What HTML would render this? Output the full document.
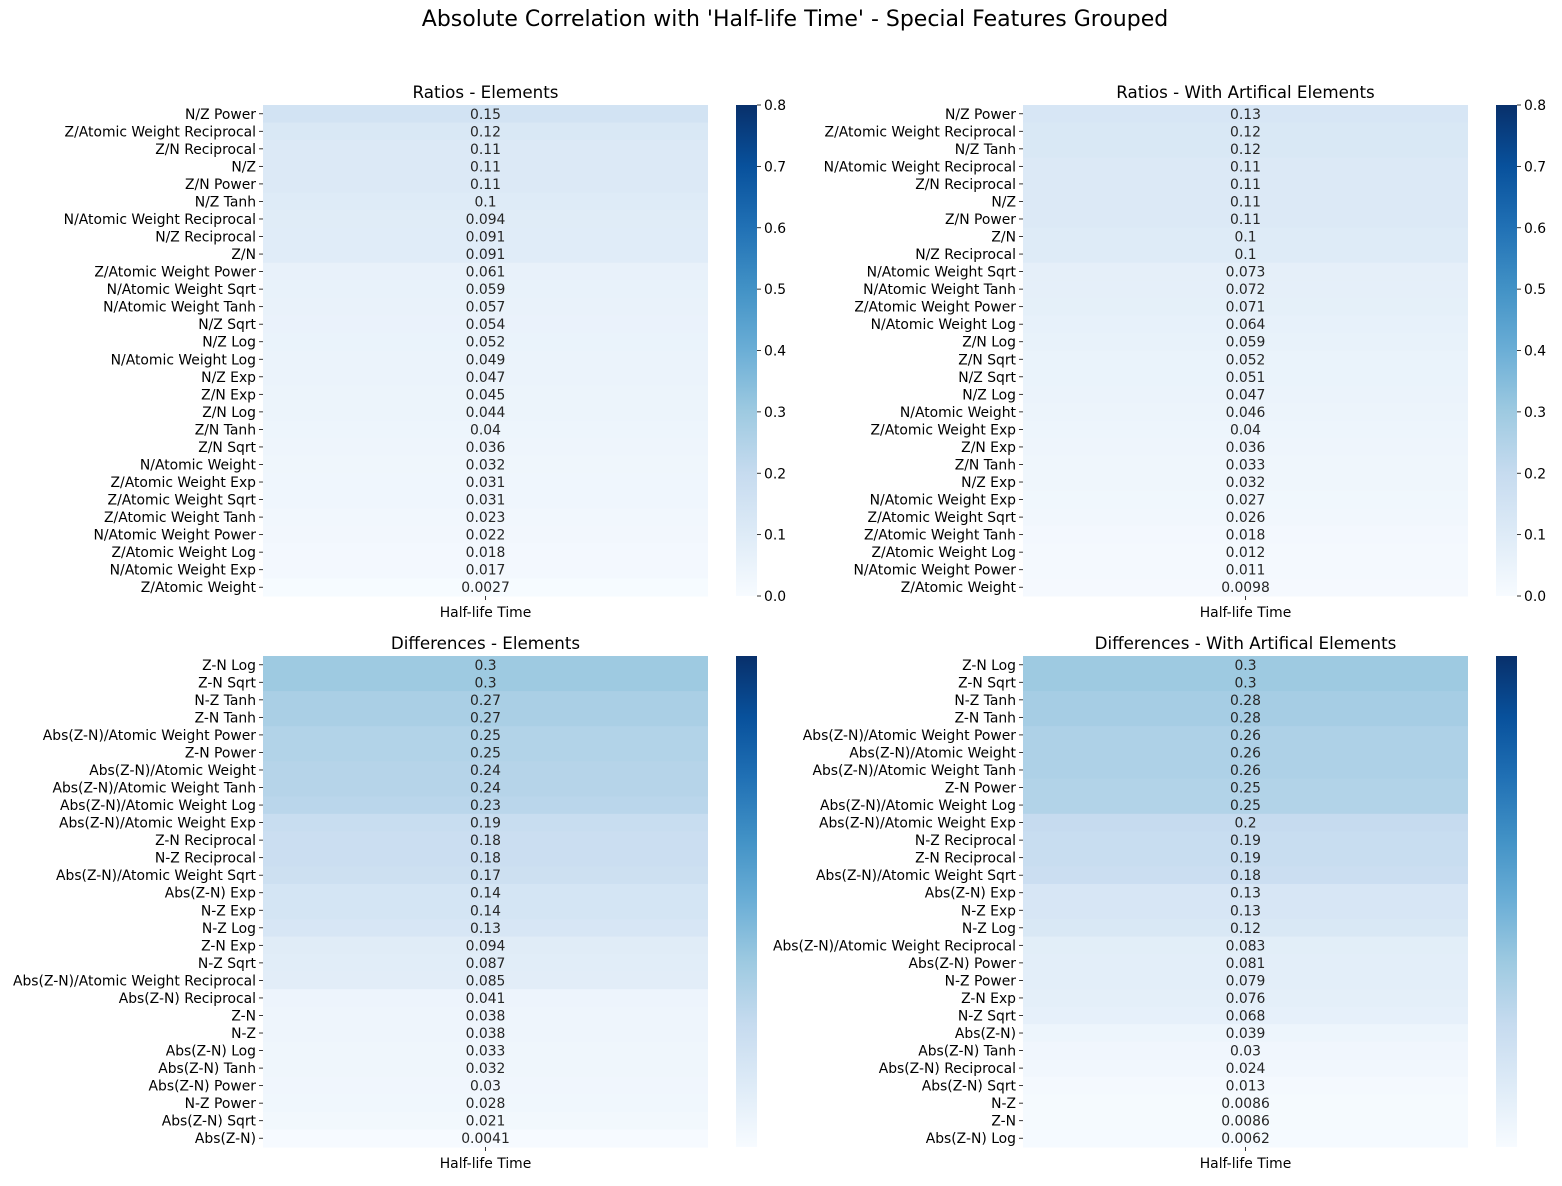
<!DOCTYPE html>
<html><head><meta charset="utf-8"><style>
body{margin:0;background:#fff;}
svg text{font-family:"DejaVu Sans","Liberation Sans",sans-serif;}
</style></head><body>
<svg id="fig" width="1562" height="1181" xmlns="http://www.w3.org/2000/svg">
<defs><linearGradient id="blues" x1="0" y1="1" x2="0" y2="0">
<stop offset="0" stop-color="#f7fbff"/><stop offset="0.125" stop-color="#deebf7"/><stop offset="0.25" stop-color="#c6dbef"/><stop offset="0.375" stop-color="#9ecae1"/><stop offset="0.5" stop-color="#6baed6"/><stop offset="0.625" stop-color="#4292c6"/><stop offset="0.75" stop-color="#2171b5"/><stop offset="0.875" stop-color="#08519c"/><stop offset="1" stop-color="#08306b"/>
</linearGradient></defs>
<text x="795" y="26" font-size="22" text-anchor="middle">Absolute Correlation with 'Half-life Time' - Special Features Grouped</text>
</svg>
<script>
const labelsTL=["N/Z Power","Z/Atomic Weight Reciprocal","Z/N Reciprocal","N/Z","Z/N Power","N/Z Tanh","N/Atomic Weight Reciprocal","N/Z Reciprocal","Z/N","Z/Atomic Weight Power","N/Atomic Weight Sqrt","N/Atomic Weight Tanh","N/Z Sqrt","N/Z Log","N/Atomic Weight Log","N/Z Exp","Z/N Exp","Z/N Log","Z/N Tanh","Z/N Sqrt","N/Atomic Weight","Z/Atomic Weight Exp","Z/Atomic Weight Sqrt","Z/Atomic Weight Tanh","N/Atomic Weight Power","Z/Atomic Weight Log","N/Atomic Weight Exp","Z/Atomic Weight"];
const valuesTL=[0.15,0.12,0.11,0.11,0.11,0.1,0.094,0.091,0.091,0.061,0.059,0.057,0.054,0.052,0.049,0.047,0.045,0.044,0.04,0.036,0.032,0.031,0.031,0.023,0.022,0.018,0.017,0.0027];
const labelsTR=["N/Z Power","Z/Atomic Weight Reciprocal","N/Z Tanh","N/Atomic Weight Reciprocal","Z/N Reciprocal","N/Z","Z/N Power","Z/N","N/Z Reciprocal","N/Atomic Weight Sqrt","N/Atomic Weight Tanh","Z/Atomic Weight Power","N/Atomic Weight Log","Z/N Log","Z/N Sqrt","N/Z Sqrt","N/Z Log","N/Atomic Weight","Z/Atomic Weight Exp","Z/N Exp","Z/N Tanh","N/Z Exp","N/Atomic Weight Exp","Z/Atomic Weight Sqrt","Z/Atomic Weight Tanh","Z/Atomic Weight Log","N/Atomic Weight Power","Z/Atomic Weight"];
const valuesTR=[0.13,0.12,0.12,0.11,0.11,0.11,0.11,0.1,0.1,0.073,0.072,0.071,0.064,0.059,0.052,0.051,0.047,0.046,0.04,0.036,0.033,0.032,0.027,0.026,0.018,0.012,0.011,0.0098];
const labelsBL=["Z-N Log","Z-N Sqrt","N-Z Tanh","Z-N Tanh","Abs(Z-N)/Atomic Weight Power","Z-N Power","Abs(Z-N)/Atomic Weight","Abs(Z-N)/Atomic Weight Tanh","Abs(Z-N)/Atomic Weight Log","Abs(Z-N)/Atomic Weight Exp","Z-N Reciprocal","N-Z Reciprocal","Abs(Z-N)/Atomic Weight Sqrt","Abs(Z-N) Exp","N-Z Exp","N-Z Log","Z-N Exp","N-Z Sqrt","Abs(Z-N)/Atomic Weight Reciprocal","Abs(Z-N) Reciprocal","Z-N","N-Z","Abs(Z-N) Log","Abs(Z-N) Tanh","Abs(Z-N) Power","N-Z Power","Abs(Z-N) Sqrt","Abs(Z-N)"];
const valuesBL=[0.3,0.3,0.27,0.27,0.25,0.25,0.24,0.24,0.23,0.19,0.18,0.18,0.17,0.14,0.14,0.13,0.094,0.087,0.085,0.041,0.038,0.038,0.033,0.032,0.03,0.028,0.021,0.0041];
const labelsBR=["Z-N Log","Z-N Sqrt","N-Z Tanh","Z-N Tanh","Abs(Z-N)/Atomic Weight Power","Abs(Z-N)/Atomic Weight","Abs(Z-N)/Atomic Weight Tanh","Z-N Power","Abs(Z-N)/Atomic Weight Log","Abs(Z-N)/Atomic Weight Exp","N-Z Reciprocal","Z-N Reciprocal","Abs(Z-N)/Atomic Weight Sqrt","Abs(Z-N) Exp","N-Z Exp","N-Z Log","Abs(Z-N)/Atomic Weight Reciprocal","Abs(Z-N) Power","N-Z Power","Z-N Exp","N-Z Sqrt","Abs(Z-N)","Abs(Z-N) Tanh","Abs(Z-N) Reciprocal","Abs(Z-N) Sqrt","N-Z","Z-N","Abs(Z-N) Log"];
const valuesBR=[0.3,0.3,0.28,0.28,0.26,0.26,0.26,0.25,0.25,0.2,0.19,0.19,0.18,0.13,0.13,0.12,0.083,0.081,0.079,0.076,0.068,0.039,0.03,0.024,0.013,0.0086,0.0086,0.0062];
const cbTicks=[0,0.1,0.2,0.3,0.4,0.5,0.6,0.7,0.8];
const VMAX=0.8;
const stops=["#f7fbff","#deebf7","#c6dbef","#9ecae1","#6baed6","#4292c6","#2171b5","#08519c","#08306b"];
function hex(h){return [1,3,5].map(i=>parseInt(h.substr(i,2),16));}
function color(v){let t=Math.max(0,Math.min(1,v/VMAX))*8;let i=Math.min(7,Math.floor(t));let f=t-i;let a=hex(stops[i]),b=hex(stops[i+1]);return "rgb("+a.map((c,k)=>Math.round(c+(b[k]-c)*f)).join(",")+")";}
const svg=document.getElementById('fig');const NS="http://www.w3.org/2000/svg";
function mk(tag,attrs,parent){const e=document.createElementNS(NS,tag);for(const k in attrs)e.setAttribute(k,attrs[k]);(parent||svg).appendChild(e);return e;}
function panel(name,title,labels,values,x0,y0,showCb){
  const W=445,H=491,n=labels.length,rh=H/n;
  const g=mk('g',{});
  
  
  const t=mk('text',{x:x0+W/2,y:y0-7,'font-size':16.7,'text-anchor':'middle'},g);t.textContent=title;
  
  
  values.forEach((v,i)=>{
    const y=y0+i*rh;
    const r=mk('rect',{x:x0,y:y,width:W,height:rh+0.5,fill:color(v)},g);
    
    
    const vt=mk('text',{x:x0+W/2,y:y+rh/2+5,'font-size':13.9,'text-anchor':'middle',fill:v/VMAX>0.6?'#fff':'#262626'},g);vt.textContent=String(v);
    
    
    mk('line',{x1:x0-4,x2:x0,y1:y+rh/2,y2:y+rh/2,stroke:'#000','stroke-width':0.8},g);
    const lt=mk('text',{x:x0-7,y:y+rh/2+5,'font-size':13.9,'text-anchor':'end'},g);lt.textContent=labels[i];
    
    
  });
  mk('line',{x1:x0+W/2,x2:x0+W/2,y1:y0+H,y2:y0+H+4,stroke:'#000','stroke-width':0.8},g);
  const xt=mk('text',{x:x0+W/2,y:y0+H+21,'font-size':13.9,'text-anchor':'middle'},g);xt.textContent='Half-life Time';
  
  
  const cx=x0+473,cw=21;
  const cb=mk('rect',{x:cx,y:y0,width:cw,height:H,fill:'url(#blues)'},g);
  
  
  if(showCb){cbTicks.forEach(v=>{const y=y0+H-v/VMAX*H;
    mk('line',{x1:cx+cw,x2:cx+cw+4,y1:y,y2:y,stroke:'#000','stroke-width':0.8},g);
    const ct=mk('text',{x:cx+cw+7,y:y+5,'font-size':13.9},g);ct.textContent=v.toFixed(1);
    
    });}
}
panel('ratios-elements','Ratios - Elements',labelsTL,valuesTL,263,105,true);
panel('ratios-artificial','Ratios - With Artifical Elements',labelsTR,valuesTR,1023,105,true);
panel('differences-elements','Differences - Elements',labelsBL,valuesBL,263,656,false);
panel('differences-artificial','Differences - With Artifical Elements',labelsBR,valuesBR,1023,656,false);
</script>
</body></html>
